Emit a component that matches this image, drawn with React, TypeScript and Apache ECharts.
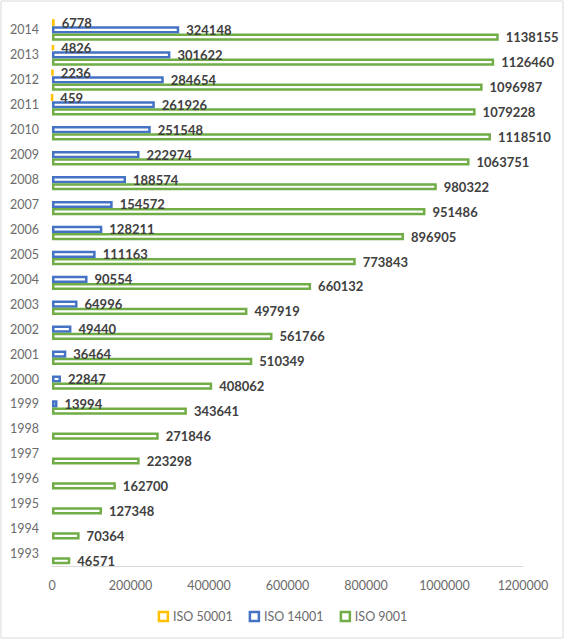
import React, { useEffect, useRef } from "react";
import * as echarts from "echarts";

const years = ["1993","1994","1995","1996","1997","1998","1999","2000","2001","2002","2003","2004","2005","2006","2007","2008","2009","2010","2011","2012","2013","2014"];
const iso9001 = [46571,70364,127348,162700,223298,271846,343641,408062,510349,561766,497919,660132,773843,896905,951486,980322,1063751,1118510,1079228,1096987,1126460,1138155];
const iso14001 = [null,null,null,null,null,null,13994,22847,36464,49440,64996,90554,111163,128211,154572,188574,222974,251548,261926,284654,301622,324148];
const iso50001 = [null,null,null,null,null,null,null,null,null,null,null,null,null,null,null,null,null,null,459,2236,4826,6778];
const xTicks = { min: 0, max: 1200000, interval: 200000 };

const FONT = "Lato, 'Open Sans', sans-serif";

export default function App() {
  const ref = useRef<HTMLDivElement>(null);
  useEffect(() => {
    if (!ref.current) return;
    const chart = echarts.init(ref.current, null, { renderer: "svg" });
    const mk = (name: string, data: (number | null)[], color: string) => ({
      name,
      type: "bar",
      data,
      barWidth: 7.2,
      barGap: "0%",
      itemStyle: { color: "#ffffff", borderColor: color, borderWidth: 2.5 },
      label: {
        show: true,
        position: "right",
        distance: 7,
        color: "#404040",
        fontWeight: "bold",
        fontSize: 13,
        fontFamily: FONT,
      },
    });
    chart.setOption({
      animation: false,
      textStyle: { fontFamily: FONT },
      grid: { left: 52, right: 42, top: 17.5, bottom: 74, containLabel: false },
      xAxis: {
        type: "value",
        min: xTicks.min,
        max: xTicks.max,
        interval: xTicks.interval,
        splitLine: { show: false },
        axisTick: { show: false },
        axisLine: { show: true, lineStyle: { color: "#d9d9d9", width: 1 } },
        axisLabel: {
          color: "#6b6b6b",
          fontSize: 12.5,
          margin: 13,
          fontFamily: FONT,
          formatter: (v: number) => String(v),
        },
      },
      yAxis: {
        type: "category",
        data: years,
        axisLine: { show: false },
        axisTick: { show: false },
        axisLabel: { color: "#6b6b6b", fontSize: 12.5, margin: 13, fontFamily: FONT },
      },
      legend: {
        data: ["ISO 50001", "ISO 14001", "ISO 9001"],
        bottom: 12,
        left: "center",
        icon: "rect",
        itemWidth: 9,
        itemHeight: 9,
        itemGap: 16,
        itemStyle: { borderWidth: 2.5 },
        textStyle: { color: "#6b6b6b", fontSize: 12.5, fontFamily: FONT },
      },
      graphic: [
        {
          type: "rect",
          shape: { x: 1, y: 1, width: 562, height: 637 },
          style: { fill: "none", stroke: "#d9d9d9", lineWidth: 1 },
          silent: true,
        },
      ],
      series: [
        mk("ISO 50001", iso50001, "#FFC000"),
        mk("ISO 14001", iso14001, "#4472C4"),
        mk("ISO 9001", iso9001, "#70AD47"),
      ],
    });
    return () => chart.dispose();
  }, []);
  return <div ref={ref} style={{ position: "fixed", left: 0, top: 0, width: 565, height: 640, background: "#fff" }} />;
}
